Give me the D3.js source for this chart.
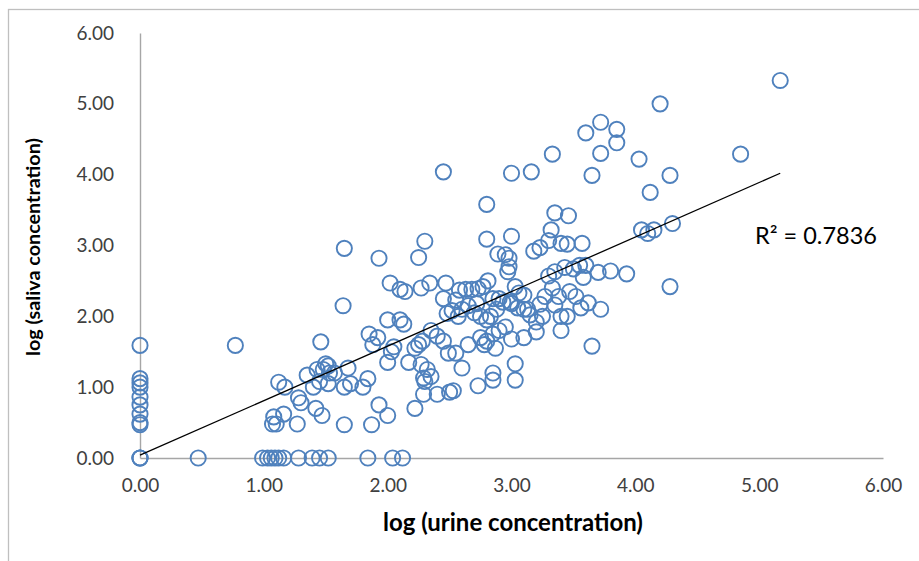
<!DOCTYPE html>
<html><head><meta charset="utf-8">
<script src="https://cdn.jsdelivr.net/npm/d3@7"></script>
<style>html,body{margin:0;padding:0;background:#fff;}svg{display:block;}</style>
</head><body>
<svg id="chart" width="919" height="561"></svg>
<script>
// urine (x) values, log scale
const urineLog = [
 0,0,0,0,0,0,0,0,0,0,0,0,
 0.47,0.99,1.03,1.06,1.09,1.12,1.16,1.28,1.39,1.45,1.52,1.84,2.04,2.12,
 5.17,4.20,3.72,3.85,3.60,3.85,3.72,3.33,4.85,4.03,2.45,3.00,3.16,3.65,4.28,4.12,2.80,3.35,3.46,4.05,4.10,4.15,4.30,3.32,3.30,3.40,3.45,3.57,2.80,3.00,3.23,3.18,2.98,2.95,2.89,2.30,1.65,1.93,2.25,3.93,3.80,3.70,3.60,3.55,3.50,3.43,3.35,3.30,2.98,2.97,4.28,
 2.02,2.10,2.14,2.27,2.34,2.47,2.45,2.55,2.58,2.63,2.68,2.73,2.77,2.81,2.85,2.93,2.99,3.03,3.06,3.10,3.13,3.10,3.05,3.00,3.15,3.20,3.23,3.27,3.33,3.38,3.35,3.40,3.45,3.47,3.52,3.56,3.62,3.72,3.58,3.40,3.25,
 2.48,2.52,2.57,2.60,2.65,2.70,2.72,2.75,2.80,2.83,2.88,2.90,2.90,2.85,2.75,2.65,2.78,2.87,2.95,3.10,2.80,2.40,2.45,2.49,2.55,2.60,2.35,2.28,2.25,2.22,2.10,2.13,2.00,1.85,1.88,1.92,2.03,2.05,2.00,
 1.64,1.46,1.50,1.52,1.48,1.53,1.57,1.43,1.35,1.45,1.40,1.52,1.68,1.70,1.65,1.80,1.84,1.12,1.17,1.28,1.30,1.42,1.47,1.08,1.16,1.10,1.07,1.27,1.65,1.87,1.93,2.00,2.22,2.29,2.40,2.50,2.53,2.30,2.29,2.32,2.35,2.17,2.27,2.73,2.85,2.85,3.03,3.03,3.65,0.77,3.00,3.20
];
// saliva (y) values, log scale
const salivaLog = [
 1.59,1.12,1.06,1.00,0.86,0.75,0.62,0.50,0.47,0,0,0,
 0,0,0,0,0,0,0,0,0,0,0,0,0,0,
 5.33,5.00,4.74,4.64,4.59,4.45,4.30,4.29,4.29,4.22,4.04,4.02,4.04,3.99,3.99,3.75,3.58,3.46,3.42,3.22,3.17,3.22,3.31,3.22,3.07,3.03,3.02,3.03,3.09,3.13,2.97,2.92,2.82,2.87,2.88,3.06,2.96,2.82,2.83,2.60,2.64,2.62,2.72,2.72,2.67,2.69,2.63,2.57,2.70,2.63,2.42,
 2.47,2.38,2.35,2.40,2.47,2.47,2.25,2.23,2.37,2.38,2.38,2.39,2.42,2.50,2.25,2.20,2.20,2.42,2.33,2.30,2.10,2.10,2.12,2.18,2.02,1.92,2.17,2.28,2.40,2.28,2.16,2.00,2.00,2.35,2.28,2.12,2.19,2.10,2.55,1.80,2.00,
 2.04,2.08,2.00,2.10,2.15,2.05,2.18,2.00,1.95,2.00,2.10,2.25,1.80,1.75,1.70,1.60,1.60,1.55,1.85,1.70,1.65,1.72,1.65,1.48,1.48,1.27,1.80,1.65,1.60,1.55,1.95,1.89,1.95,1.75,1.60,1.70,1.50,1.57,1.35,
 2.15,1.64,1.33,1.30,1.25,1.20,1.20,1.25,1.17,1.08,1.00,1.05,1.27,1.05,1.00,1.00,1.12,1.07,1.00,0.85,0.78,0.70,0.60,0.58,0.62,0.48,0.48,0.48,0.47,0.47,0.75,0.60,0.70,0.90,0.90,0.93,0.95,1.08,1.13,1.25,1.15,1.35,1.32,1.02,1.10,1.20,1.10,1.33,1.58,1.59,1.68,1.78
];
const xTicks = [0,1,2,3,4,5,6];
const yTicks = [0,1,2,3,4,5,6];
const trendX = [0, 5.17];
const trendY = [0.04, 4.02];
const rSquared = "R² = 0.7836";
const xTitle = "log (urine concentration)";
const yTitle = "log (saliva concentration)";

const svg = d3.select("#chart");
const font = "Lato, 'Open Sans', sans-serif";
svg.append("rect").attr("x",8.5).attr("y",9.5).attr("width",1000).attr("height",1000)
  .attr("fill","#fff").attr("stroke","#bfbfbf").attr("stroke-width",1.3);

const x = d3.scaleLinear().domain([0,6]).range([140,883]);
const y = d3.scaleLinear().domain([0,6]).range([458,33]);

const xAxis = svg.append("g").attr("transform","translate(0,"+y(0)+")")
  .call(d3.axisBottom(x).tickValues(xTicks).tickSize(0).tickPadding(21).tickFormat(d3.format(".2f")));
const yAxis = svg.append("g").attr("transform","translate("+x(0)+",0)")
  .call(d3.axisLeft(y).tickValues(yTicks).tickSize(0).tickPadding(26).tickFormat(d3.format(".2f")));
[xAxis,yAxis].forEach(g=>{
  g.select(".domain").attr("stroke","#a6a6a6").attr("stroke-width",1.4);
  g.selectAll("text").attr("font-family",font).attr("font-size",19).attr("fill","#404040");
});

const pts = urineLog.map((u,i)=>({u, s: salivaLog[i]}));
svg.append("g").selectAll("circle").data(pts).join("circle")
  .attr("cx",d=>x(d.u)).attr("cy",d=>y(d.s)).attr("r",7.6)
  .attr("fill","none").attr("stroke","#4f81bd").attr("stroke-width",1.9);

svg.append("line")
  .attr("x1",x(trendX[0])).attr("y1",y(trendY[0]))
  .attr("x2",x(trendX[1])).attr("y2",y(trendY[1]))
  .attr("stroke","#000").attr("stroke-width",1.3);

svg.append("text").attr("x",755).attr("y",244).text(rSquared)
  .attr("font-family",font).attr("font-size",23.5).attr("fill","#000");

svg.append("text").attr("x",513).attr("y",531).attr("text-anchor","middle").text(xTitle)
  .attr("font-family",font).attr("font-size",24).attr("font-weight","bold").attr("fill","#000");
svg.append("text").attr("transform","translate(40,247) rotate(-90)").attr("text-anchor","middle").text(yTitle)
  .attr("font-family",font).attr("font-size",19.8).attr("font-weight","bold").attr("fill","#000");
</script>
</body></html>
